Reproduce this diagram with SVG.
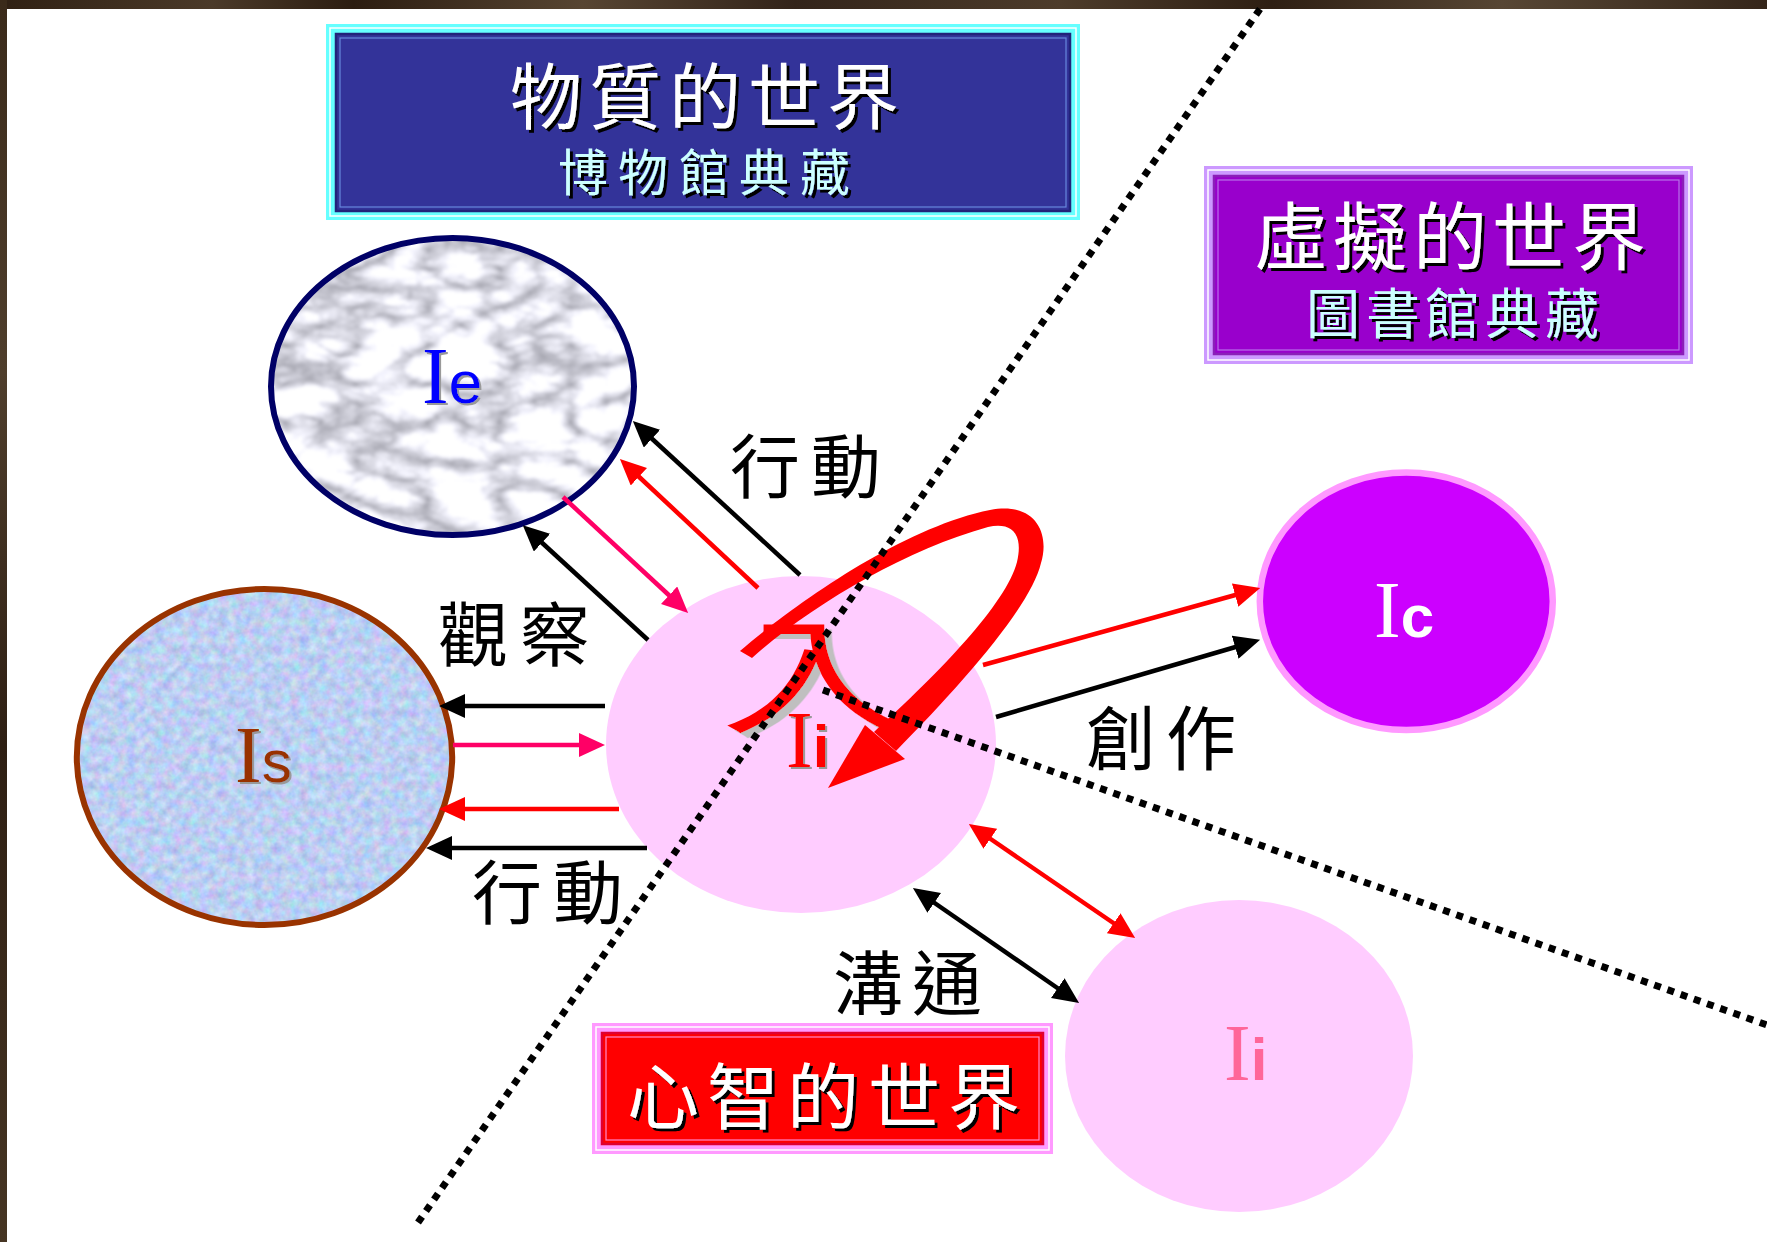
<svg xmlns="http://www.w3.org/2000/svg" width="1767" height="1242" viewBox="0 0 1767 1242">
<defs>
<style>
.cjk{font-family:"Noto Sans CJK TC","Noto Sans CJK SC",sans-serif;text-anchor:middle;}
.ttl{fill:#FFFFFF;filter:url(#shK);}
.sub{fill:#CCFFFF;filter:url(#shK);}
.lbl{fill:#000000;font-size:70px;}
.I{font-family:"Liberation Serif","Times New Roman",serif;font-size:80px;}
.sx{font-family:"Liberation Sans",Arial,sans-serif;font-size:60px;}
.dot{fill:none;stroke:#000;stroke-width:7;stroke-dasharray:7 7;}
.k{stroke:#000;stroke-width:4.5;fill:none;}
.r{stroke:#FF0000;stroke-width:4.5;fill:none;}
.p{stroke:#FF0066;stroke-width:4.5;fill:none;}
</style>
<linearGradient id="wood" x1="0" y1="0" x2="1" y2="0">
<stop offset="0" stop-color="#2f2013"/><stop offset="0.12" stop-color="#4b3a29"/><stop offset="0.2" stop-color="#2c1d11"/>
<stop offset="0.33" stop-color="#574532"/><stop offset="0.45" stop-color="#33241a"/><stop offset="0.6" stop-color="#4d3c2b"/>
<stop offset="0.72" stop-color="#2e1f13"/><stop offset="0.85" stop-color="#574634"/><stop offset="1" stop-color="#35261a"/>
</linearGradient>
<linearGradient id="woodv" x1="0" y1="0" x2="0" y2="1">
<stop offset="0" stop-color="#3a2a1a"/><stop offset="0.3" stop-color="#4f3e2c"/><stop offset="0.6" stop-color="#2e1f13"/><stop offset="1" stop-color="#463523"/>
</linearGradient>
<filter id="marble" x="0" y="0" width="1" height="1" color-interpolation-filters="sRGB">
<feTurbulence type="turbulence" baseFrequency="0.014 0.026" numOctaves="5" seed="11" result="t"/>
<feColorMatrix in="t" type="matrix" values="0.9 0 0 0 0.62  0.9 0 0 0 0.62  0.9 0 0 0 0.66  0 0 0 0 1" result="c"/>
<feGaussianBlur in="c" stdDeviation="1.5" result="b"/>
<feComposite in="b" in2="SourceGraphic" operator="in"/>
</filter>
<filter id="pastel" x="0" y="0" width="1" height="1" color-interpolation-filters="sRGB">
<feTurbulence type="fractalNoise" baseFrequency="0.11" numOctaves="3" seed="2" result="n"/>
<feColorMatrix in="n" type="matrix" values="0.35 0 0 0 0.56  0 0.3 0 0 0.66  0 0 0.2 0 0.85  0 0 0 0 1" result="c"/>
<feComposite in="c" in2="SourceGraphic" operator="in"/>
</filter>
<filter id="shK" x="-5%" y="-10%" width="115%" height="130%"><feDropShadow dx="3" dy="3" stdDeviation="0.3" flood-color="#000000"/></filter>
<filter id="shG" x="-10%" y="-10%" width="130%" height="130%"><feDropShadow dx="2" dy="2" stdDeviation="0.5" flood-color="#999999"/></filter>
<filter id="shR" x="-10%" y="-10%" width="130%" height="130%"><feDropShadow dx="5" dy="5" stdDeviation="0" flood-color="#BFBFBF"/></filter>
<marker id="mk" viewBox="0 0 26 24" markerWidth="26" markerHeight="24" refX="4" refY="12" orient="auto-start-reverse" markerUnits="userSpaceOnUse"><path d="M0,0L26,12L0,24z" fill="#000000"/></marker>
<marker id="mr" viewBox="0 0 26 24" markerWidth="26" markerHeight="24" refX="4" refY="12" orient="auto-start-reverse" markerUnits="userSpaceOnUse"><path d="M0,0L26,12L0,24z" fill="#FF0000"/></marker>
<marker id="mp" viewBox="0 0 26 24" markerWidth="26" markerHeight="24" refX="4" refY="12" orient="auto-start-reverse" markerUnits="userSpaceOnUse"><path d="M0,0L26,12L0,24z" fill="#FF0066"/></marker>
</defs>

<rect x="0" y="0" width="1767" height="1242" fill="#FFFFFF"/>
<g id="frame">
<rect x="0" y="0" width="1767" height="9" fill="url(#wood)"/>
<rect x="0" y="0" width="7" height="1242" fill="url(#woodv)"/>
</g>

<g id="box-physical">
<rect x="326" y="24" width="754" height="196" fill="#66FFFF"/>
<rect x="330" y="28" width="746" height="188" fill="none" stroke="#FFFFFF" stroke-width="1.5"/>
<rect x="336" y="34" width="734" height="177" fill="#333399" stroke="#22227A" stroke-width="2.5"/>
<rect x="340" y="38" width="726" height="169" fill="none" stroke="#6688DD" stroke-width="1.2"/>
<text class="cjk ttl" font-size="72" x="546 625 705 784 863" y="123">物質的世界</text>
<text class="cjk sub" font-size="50" x="583 643 704 764 825" y="191">博物館典藏</text>
</g>

<g id="box-virtual">
<rect x="1204" y="166" width="489" height="198" fill="#CC99FF"/>
<rect x="1208" y="170" width="481" height="190" fill="none" stroke="#FFFFFF" stroke-width="1.5"/>
<rect x="1214" y="176" width="469" height="178" fill="#9900CC" stroke="#8A1FB8" stroke-width="2.5"/>
<rect x="1218" y="180" width="461" height="170" fill="none" stroke="#B870E8" stroke-width="1.2"/>
<text class="cjk ttl" font-size="74" x="1291 1370 1450 1529 1609" y="264">虛擬的世界</text>
<text class="cjk sub" font-size="54" x="1333 1393 1452 1512 1572" y="334">圖書館典藏</text>
</g>

<g id="box-mind">
<rect x="592" y="1023" width="461" height="131" fill="#FF99FF"/>
<rect x="596" y="1027" width="453" height="123" fill="none" stroke="#FFFFFF" stroke-width="1.5"/>
<rect x="602" y="1033" width="441" height="111" fill="#FF0000" stroke="#E00030" stroke-width="2.5"/>
<rect x="606" y="1037" width="433" height="103" fill="none" stroke="#FF88CC" stroke-width="1.2"/>
<text class="cjk ttl" font-size="72" x="663 743 823 904 984" y="1123">心智的世界</text>
</g>

<g id="node-Ie">
<ellipse cx="452.5" cy="386.5" rx="181.5" ry="148.5" fill="#DCDCE0" filter="url(#marble)"/>
<ellipse cx="452.5" cy="386.5" rx="181.5" ry="148.5" fill="none" stroke="#000066" stroke-width="6"/>
<text x="422" y="403" fill="#0000FF" filter="url(#shG)"><tspan class="I">I</tspan><tspan class="sx">e</tspan></text>
</g>

<g id="node-Is">
<ellipse cx="264.5" cy="757" rx="187.7" ry="168" fill="#B8CCF0" filter="url(#pastel)"/>
<ellipse cx="264.5" cy="757" rx="187.7" ry="168" fill="none" stroke="#993300" stroke-width="6"/>
<text x="235" y="782" fill="#993300" filter="url(#shG)"><tspan class="I">I</tspan><tspan class="sx" font-size="62">s</tspan></text>
</g>

<g id="node-Ic">
<ellipse cx="1406.3" cy="601.3" rx="146.5" ry="128.7" fill="#CC00FF" stroke="#FF99FF" stroke-width="6.5"/>
<text x="1374" y="637" fill="#FFFFFF"><tspan class="I">I</tspan><tspan class="sx" font-weight="bold">c</tspan></text>
</g>

<g id="node-Ii2">
<ellipse cx="1239" cy="1056" rx="174" ry="156" fill="#FFCCFF"/>
<text x="1224" y="1080" fill="#FF6699"><tspan class="I">I</tspan><tspan class="sx" font-weight="bold" font-size="56">i</tspan></text>
</g>

<g id="node-Ii">
<ellipse cx="801" cy="744.5" rx="195" ry="168.5" fill="#FFCCFF"/>
<text x="786" y="767" fill="#FF0000" filter="url(#shG)"><tspan class="I">I</tspan><tspan class="sx" font-weight="bold" font-size="56">i</tspan></text>
</g>

<g id="connectors">
<line class="k" x1="800" y1="575" x2="649" y2="436" marker-end="url(#mk)"/>
<line class="r" x1="758" y1="588" x2="636" y2="474" marker-end="url(#mr)"/>
<line class="p" x1="563" y1="497" x2="672" y2="598" marker-end="url(#mp)"/>
<line class="k" x1="648" y1="640" x2="539" y2="540" marker-end="url(#mk)"/>
<line class="k" x1="605" y1="706" x2="461" y2="706" marker-end="url(#mk)"/>
<line class="p" x1="453" y1="745" x2="583" y2="745" marker-end="url(#mp)"/>
<line class="r" x1="619" y1="809" x2="461" y2="809" marker-end="url(#mr)"/>
<line class="k" x1="647" y1="848" x2="448" y2="848" marker-end="url(#mk)"/>
<line class="r" x1="983" y1="665" x2="1239" y2="594" marker-end="url(#mr)"/>
<line class="k" x1="996" y1="717" x2="1239" y2="646" marker-end="url(#mk)"/>
<line class="r" x1="987" y1="836.5" x2="1117" y2="925.5" marker-start="url(#mr)" marker-end="url(#mr)"/>
<line class="k" x1="931" y1="900.5" x2="1061" y2="990.5" marker-start="url(#mk)" marker-end="url(#mk)"/>
<text class="cjk lbl" x="765 846" y="493">行動</text>
<text class="cjk lbl" x="473 555" y="661">觀察</text>
<text class="cjk lbl" x="507 588" y="919">行動</text>
<text class="cjk lbl" x="1121 1201" y="765">創作</text>
<text class="cjk lbl" x="868 947" y="1010">溝通</text>
</g>

<g id="self-loop">
<text class="cjk" font-size="126" x="800" y="723" fill="#FF0000" filter="url(#shR)" transform="translate(770,0) scale(1.5,1) translate(-770,0)">入</text>
<path d="M740,651 C790,608 900,528 990,510 C1036,501 1050,534 1041,563 C1031,606 962,684 896,751 L874,732 C940,672 1006,604 1017,562 C1024,532 1010,522 988,527 C905,550 810,606 752,658 Z" fill="#FF0000"/>
<polygon points="828,788 865,725 905,759" fill="#FF0000"/>
</g>

<g id="dividers">
<line class="dot" x1="1260" y1="9" x2="417" y2="1224"/>
<line class="dot" x1="823" y1="690" x2="1767" y2="1025"/>
</g>
</svg>
